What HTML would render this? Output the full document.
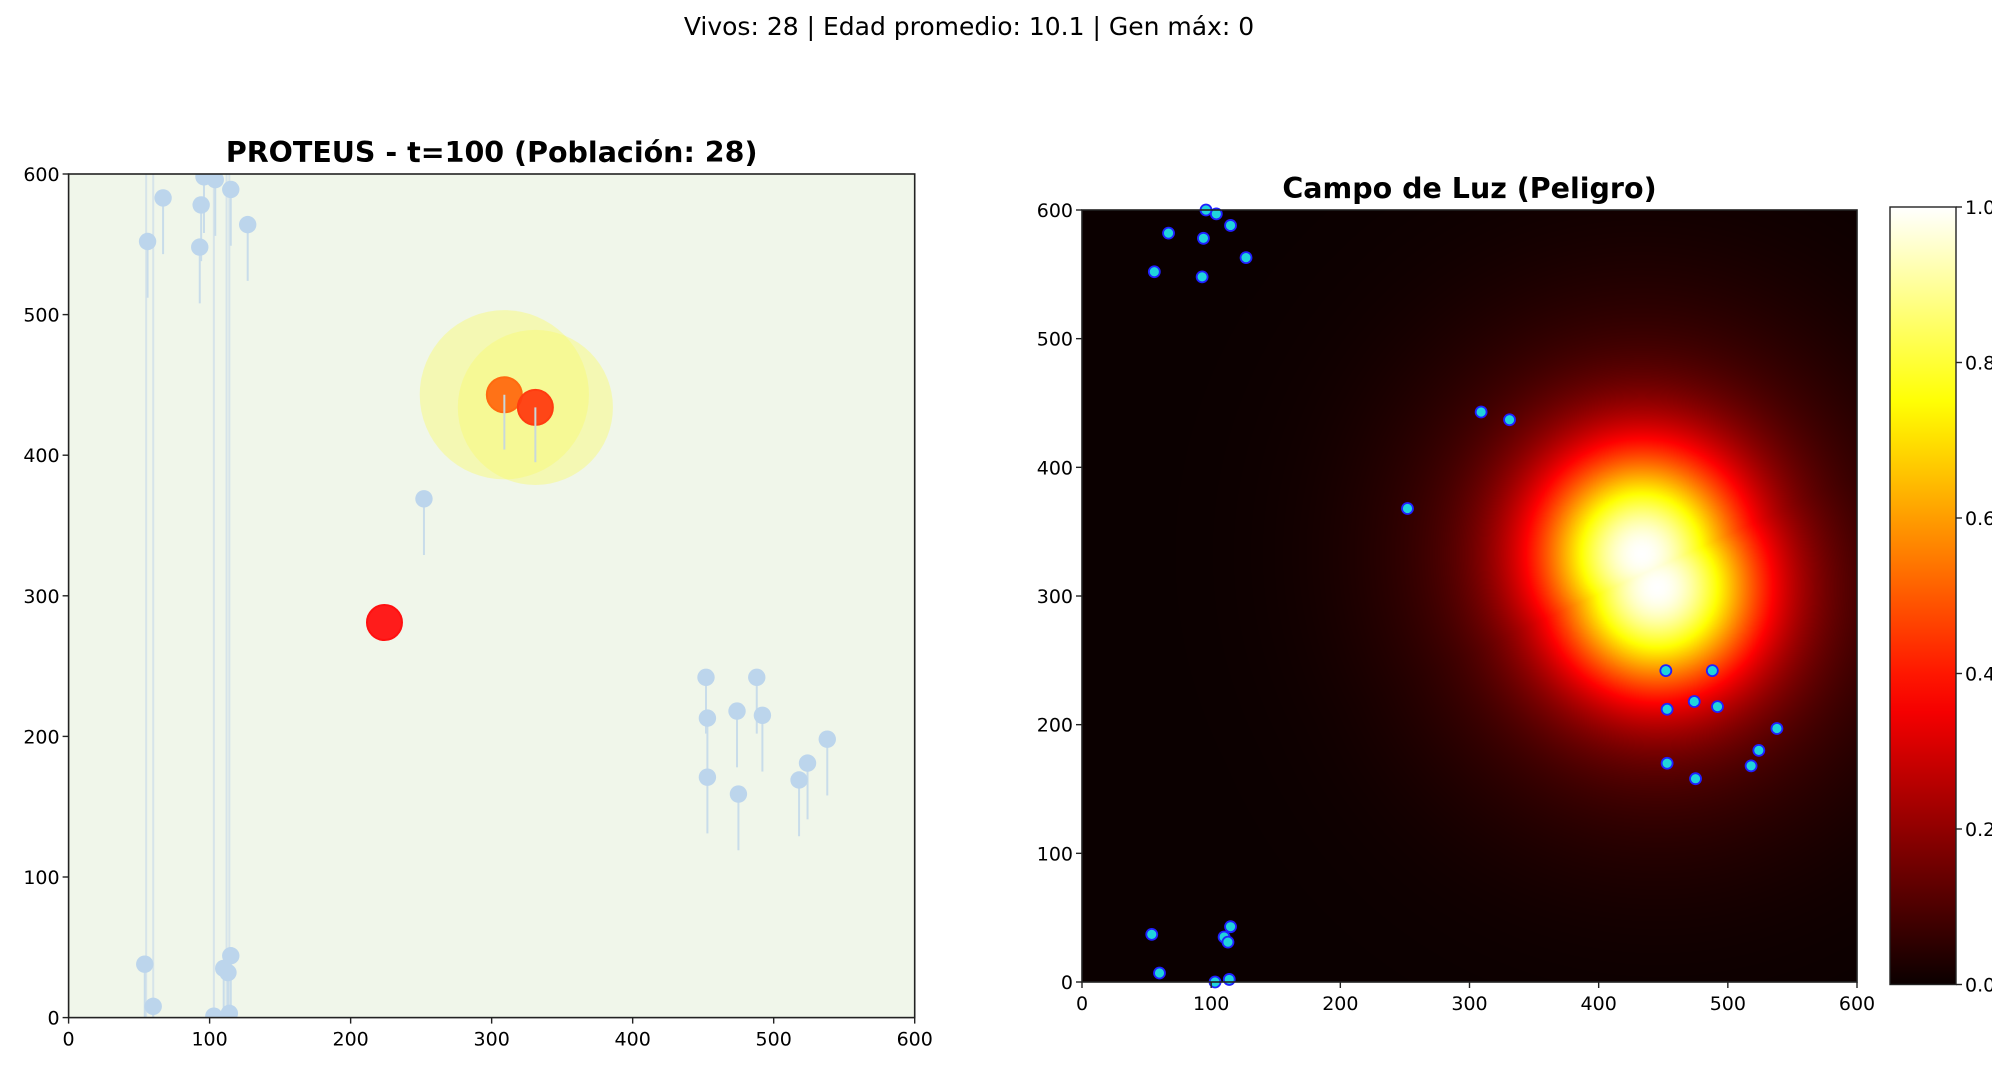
<!DOCTYPE html>
<html><head><meta charset="utf-8">
<style>
html,body{margin:0;padding:0;background:#fff;}
body{width:1992px;height:1069px;position:relative;overflow:hidden;font-family:"Liberation Sans","DejaVu Sans",sans-serif;}
#heat{position:absolute;left:1082px;top:210px;width:775px;height:772px;}
svg{position:absolute;left:0;top:0;}
text{font-family:"DejaVu Sans","Liberation Sans",sans-serif;}
</style></head>
<body>
<canvas id="heat" width="775" height="772"></canvas>
<svg id="fig" width="1992" height="1069"></svg>
<script>
const blueX=[96,104,115,67,94,127,56,93,252,452,488,474,453,492,538,524,453,475,518,54,60,115,110,113,103,114];
const blueY=[598,596,589,583,578,564,552,548,369,242,242,218,213,215,198,181,171,159,169,38,8,44,35,32,1,3];
const bigX=[309,331,224];
const bigY=[443,434,281];
const bigColors=['#ff6a10','#ff3c10','#ff1010'];
const lightX=[309,331];
const lightY=[443,434];
const lightR=[60,55];
const longLineX=[55,60,103,112,114];
const agentX=[96,104,115,67,94,127,56,93,309,331,252,452,488,474,453,492,538,524,453,475,518,54,60,115,110,113,103,114];
const agentY=[600,597,588,582,578,563,552,548,443,437,368,242,242,218,212,214,197,180,170,158,168,37,7,43,35,31,0,2];
const blobX=[433,445];
const blobY=[333,307];
const ticks=[0,100,200,300,400,500,600];
const cbTicks=[0,0.2,0.4,0.6,0.8,1.0];

const NS='http://www.w3.org/2000/svg';
const svg=document.getElementById('fig');
function mk(tag,attrs,parent){const e=document.createElementNS(NS,tag);for(const k in attrs)e.setAttribute(k,attrs[k]);(parent||svg).appendChild(e);return e;}

const L={x0:68.6,x1:914.7,y0:1017.6,y1:174};
const lx=v=>L.x0+(v/600)*(L.x1-L.x0);
const ly=v=>L.y0-(v/600)*(L.y0-L.y1);
const R={x0:1082,x1:1857,y0:982,y1:210};
const rx=v=>R.x0+(v/600)*(R.x1-R.x0);
const ry=v=>R.y0-(v/600)*(R.y0-R.y1);

const defs=mk('defs',{});
const cp=mk('clipPath',{id:'lclip'},defs);
mk('rect',{x:L.x0,y:L.y1,width:L.x1-L.x0,height:L.y0-L.y1},cp);

const t=mk('text',{x:969,y:35,'font-size':'25','text-anchor':'middle',fill:'#000'});
t.textContent='Vivos: 28 | Edad promedio: 10.1 | Gen máx: 0';



const lg=mk('g',{'clip-path':'url(#lclip)'});


const bg=mk('rect',{x:L.x0,y:L.y1,width:L.x1-L.x0,height:L.y0-L.y1,fill:'#f0f6ea'},lg);


const pxs=(L.x1-L.x0)/600;
for(let i=0;i<lightX.length;i++){
  const c=mk('circle',{cx:lx(lightX[i]),cy:ly(lightY[i]),r:lightR[i]*pxs,fill:'#f8fb70','fill-opacity':'0.45'},lg);
  
  
}
for(let i=0;i<longLineX.length;i++){
  const l=mk('line',{x1:lx(longLineX[i]),x2:lx(longLineX[i]),y1:L.y1,y2:L.y0,stroke:'#cfe0ea','stroke-width':'2','stroke-opacity':'0.8'},lg);
  
  
}
for(let i=0;i<blueX.length;i++){
  const l=mk('line',{x1:lx(blueX[i]),x2:lx(blueX[i]),y1:ly(blueY[i]),y2:ly(blueY[i]-40),stroke:'#c8dcea','stroke-width':'2'},lg);
  
  
  const c=mk('circle',{cx:lx(blueX[i]),cy:ly(blueY[i]),r:8.7,fill:'#bcd5ec'},lg);
  
  
}
for(let i=0;i<bigX.length;i++){
  const c=mk('circle',{cx:lx(bigX[i]),cy:ly(bigY[i]),r:17.5,fill:bigColors[i],'fill-opacity':'0.95',stroke:bigColors[i],'stroke-width':'2'},lg);
  
  
  if(i<2){const l=mk('line',{x1:lx(bigX[i]),x2:lx(bigX[i]),y1:ly(bigY[i]),y2:ly(bigY[i]-39),stroke:'#c8d8dc','stroke-width':'2'},lg);
  
  }
}
function axes(X0,X1,Y0,Y1,fx,fy,name){
  const f=mk('rect',{x:X0,y:Y1,width:X1-X0,height:Y0-Y1,fill:'none',stroke:'#222','stroke-width':'1.6'});
  
  
  for(const v of ticks){
    mk('line',{x1:fx(v),x2:fx(v),y1:Y0,y2:Y0+6,stroke:'#222','stroke-width':'1.4'});
    const tx=mk('text',{x:fx(v),y:Y0+28,'font-size':'19','text-anchor':'middle'});tx.textContent=v;
    
    
    mk('line',{x1:X0-6,x2:X0,y1:fy(v),y2:fy(v),stroke:'#222','stroke-width':'1.4'});
    const ty=mk('text',{x:X0-9,y:fy(v)+7,'font-size':'19','text-anchor':'end'});ty.textContent=v;
    
    
  }
}
axes(L.x0,L.x1,L.y0,L.y1,lx,ly,'world');
const t1=mk('text',{x:(L.x0+L.x1)/2,y:162,'font-size':'28.5','font-weight':'bold','text-anchor':'middle'});
t1.textContent='PROTEUS - t=100 (Población: 28)';



// heatmap
const cv=document.getElementById('heat');const ctx=cv.getContext('2d');
const W=cv.width,H=cv.height;const img=ctx.createImageData(W,H);
let vals=new Float32Array(W*H),mx=0;
for(let j=0;j<H;j++)for(let i=0;i<W;i++){
  const dx=i/W*600,dy=600-j/H*600;let core=0,broad=0;
  for(let k=0;k<blobX.length;k++){const a=dx-blobX[k],b=dy-blobY[k],d2=a*a+b*b;
    core=Math.max(core,Math.exp(-d2/6200));broad=Math.max(broad,Math.exp(-d2/26000));}
  const s=core+0.25*broad;
  vals[j*W+i]=s;if(s>mx)mx=s;
}
const cl=v=>Math.max(0,Math.min(1,v));
function hot(v){return [cl(0.0416+v/0.365*(1-0.0416)),cl((v-0.365)/0.381),cl((v-0.746)/0.254)];}
for(let p=0;p<W*H;p++){const c=hot(vals[p]/mx);img.data[p*4]=c[0]*255;img.data[p*4+1]=c[1]*255;img.data[p*4+2]=c[2]*255;img.data[p*4+3]=255;}
ctx.putImageData(img,0,0);

const rg=mk('g',{});


for(let i=0;i<agentX.length;i++){
  const c=mk('circle',{cx:rx(agentX[i]),cy:ry(agentY[i]),r:5.5,fill:'#20d4dc',stroke:'#2020ff','stroke-width':'1.8'},rg);
  
  
}
axes(R.x0,R.x1,R.y0,R.y1,rx,ry,'field');
const t2=mk('text',{x:(R.x0+R.x1)/2,y:198,'font-size':'28.5','font-weight':'bold','text-anchor':'middle'});
t2.textContent='Campo de Luz (Peligro)';



const gr=mk('linearGradient',{id:'hotg',x1:'0',y1:'1',x2:'0',y2:'0'},defs);
for(let k=0;k<=20;k++){const v=k/20,c=hot(v);mk('stop',{offset:v,'stop-color':`rgb(${Math.round(c[0]*255)},${Math.round(c[1]*255)},${Math.round(c[2]*255)})`},gr);}
const C={x0:1890,x1:1956,y0:984.5,y1:207};
const cb=mk('rect',{x:C.x0,y:C.y1,width:C.x1-C.x0,height:C.y0-C.y1,fill:'url(#hotg)',stroke:'#222','stroke-width':'1.4'});


for(const v of cbTicks){
  const y=C.y0-v*(C.y0-C.y1);
  mk('line',{x1:C.x1,x2:C.x1+6,y1:y,y2:y,stroke:'#222','stroke-width':'1.4'});
  const tx=mk('text',{x:C.x1+9,y:y+7,'font-size':'19'});tx.textContent=v.toFixed(1);
  
  
}
</script>
</body></html>
